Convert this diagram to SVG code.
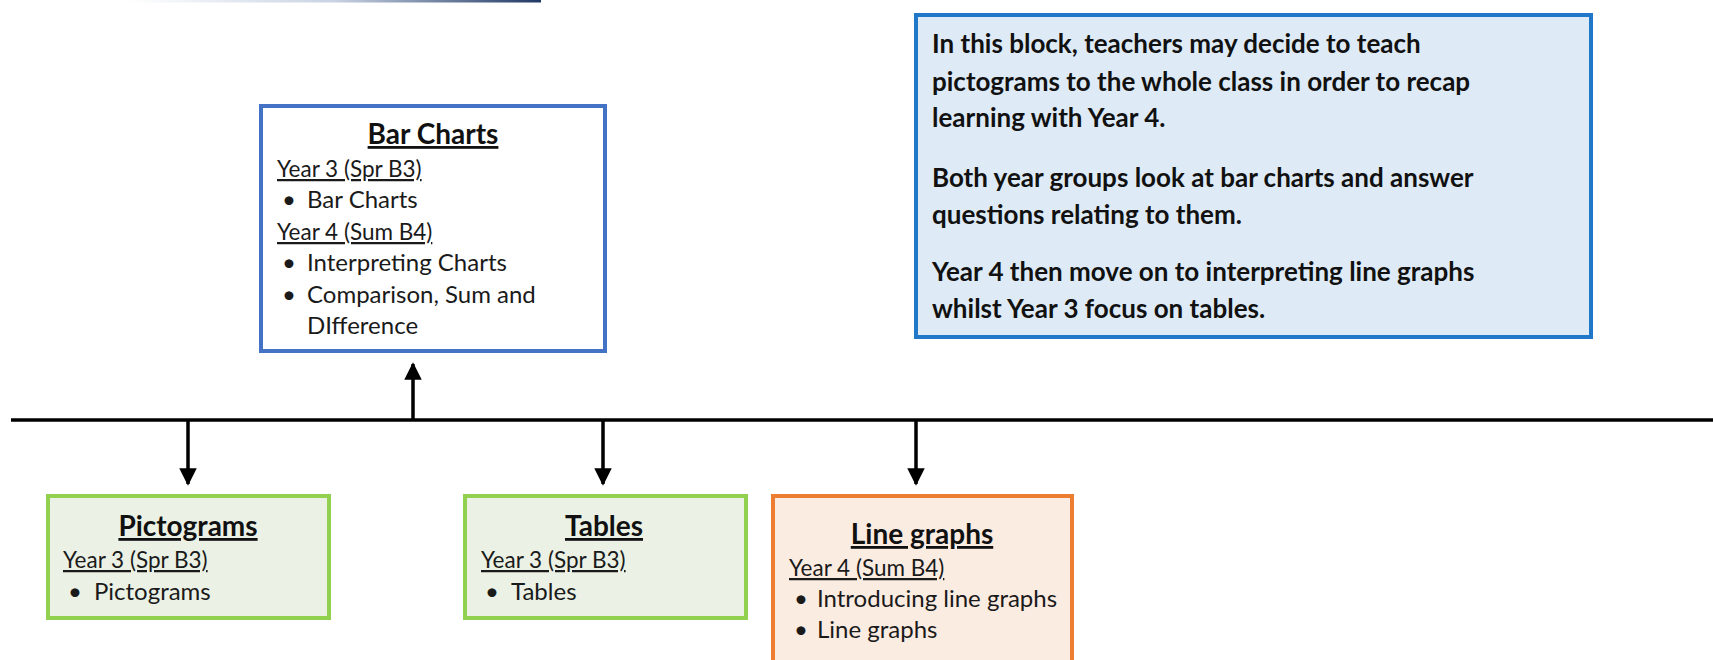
<svg xmlns="http://www.w3.org/2000/svg" width="1713" height="660" viewBox="0 0 1713 660">
<defs>
  <linearGradient id="topline" x1="0" y1="0" x2="1" y2="0">
    <stop offset="0" stop-color="#ffffff"/>
    <stop offset="0.5" stop-color="#c9d3e3"/>
    <stop offset="1" stop-color="#1f3864"/>
  </linearGradient>
  <marker id="arr" viewBox="0 0 10 10" refX="9" refY="5" markerWidth="5" markerHeight="6" markerUnits="strokeWidth" orient="auto">
    <path d="M0,0 L10,5 L0,10 z" fill="#000"/>
  </marker>
  <style>
    .title{font-family:Lato,"Liberation Sans",sans-serif;font-weight:bold;font-size:28px;fill:#111;text-anchor:middle;text-decoration:underline;}
    .body{font-family:Lato,"Liberation Sans",sans-serif;font-size:24px;fill:#1a1a1a;}
    .yr{font-size:22.5px;text-decoration:underline;}
    .info{font-family:Lato,"Liberation Sans",sans-serif;font-weight:bold;font-size:26px;fill:#111;}
    .conn{stroke:#000;stroke-width:3.5;fill:none;}
  </style>
</defs>
<rect width="1713" height="660" fill="#ffffff"/>
<rect x="126" y="0" width="415" height="2.5" fill="url(#topline)"/>

<g id="connectors">
  <line class="conn" x1="11" y1="420" x2="1713" y2="420" stroke-width="4"/>
  <line class="conn" x1="413" y1="420" x2="413" y2="364" marker-end="url(#arr)"/>
  <line class="conn" x1="188" y1="420" x2="188" y2="484" marker-end="url(#arr)"/>
  <line class="conn" x1="603" y1="420" x2="603" y2="484" marker-end="url(#arr)"/>
  <line class="conn" x1="916" y1="420" x2="916" y2="484" marker-end="url(#arr)"/>
</g>

<g id="bar-charts">
  <rect x="261" y="106" width="344" height="245" fill="#ffffff" stroke="#4472c4" stroke-width="4"/>
  <text class="title" x="433" y="144">Bar Charts</text>
  <text class="body yr" x="277" y="177">Year 3 (Spr B3)</text>
  <text class="body" x="282" y="208">•</text>
  <text class="body" x="307" y="208">Bar Charts</text>
  <text class="body yr" x="277" y="240">Year 4 (Sum B4)</text>
  <text class="body" x="282" y="271">•</text>
  <text class="body" x="307" y="271">Interpreting Charts</text>
  <text class="body" x="282" y="303">•</text>
  <text class="body" x="307" y="303">Comparison, Sum and</text>
  <text class="body" x="307" y="334">DIfference</text>
</g>

<g id="pictograms">
  <rect x="48" y="496" width="281" height="122" fill="#ebf1e5" stroke="#92d050" stroke-width="4"/>
  <text class="title" x="188" y="536">Pictograms</text>
  <text class="body yr" x="63" y="568">Year 3 (Spr B3)</text>
  <text class="body" x="68" y="600">•</text>
  <text class="body" x="94" y="600">Pictograms</text>
</g>

<g id="tables">
  <rect x="465" y="496" width="281" height="122" fill="#ebf1e5" stroke="#92d050" stroke-width="4"/>
  <text class="title" x="604" y="536">Tables</text>
  <text class="body yr" x="481" y="568">Year 3 (Spr B3)</text>
  <text class="body" x="485" y="600">•</text>
  <text class="body" x="511" y="600">Tables</text>
</g>

<g id="line-graphs">
  <rect x="773" y="496" width="299" height="180" fill="#fbece2" stroke="#ed7d31" stroke-width="4"/>
  <text class="title" x="922" y="544">Line graphs</text>
  <text class="body yr" x="789" y="576">Year 4 (Sum B4)</text>
  <text class="body" x="794" y="607">•</text>
  <text class="body" x="817" y="607">Introducing line graphs</text>
  <text class="body" x="794" y="638">•</text>
  <text class="body" x="817" y="638">Line graphs</text>
</g>

<g id="info">
  <rect x="916" y="15" width="675" height="322" fill="#deebf7" stroke="#1f78c8" stroke-width="4"/>
  <text class="info" x="932" y="53">In this block, teachers may decide to teach</text>
  <text class="info" x="932" y="91">pictograms to the whole class in order to recap</text>
  <text class="info" x="932" y="127">learning with Year 4.</text>
  <text class="info" x="932" y="187">Both year groups look at bar charts and answer</text>
  <text class="info" x="932" y="224">questions relating to them.</text>
  <text class="info" x="932" y="281">Year 4 then move on to interpreting line graphs</text>
  <text class="info" x="932" y="318">whilst Year 3 focus on tables.</text>
</g>
</svg>
